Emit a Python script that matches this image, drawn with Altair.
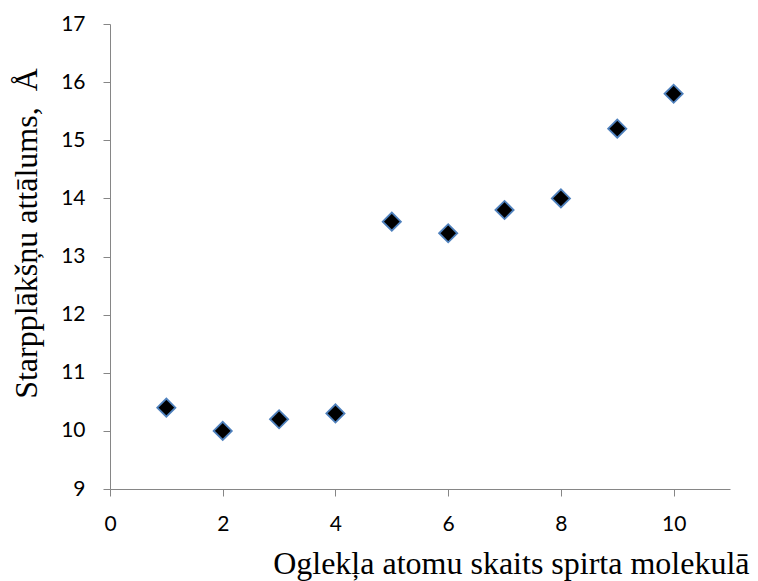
import altair as alt
import pandas as pd

carbon_atoms = [1, 2, 3, 4, 5, 6, 7, 8, 9, 10]
spacing = [10.4, 10.0, 10.2, 10.3, 13.6, 13.4, 13.8, 14.0, 15.2, 15.8]
x_ticks = [0, 2, 4, 6, 8, 10]
y_ticks = [9, 10, 11, 12, 13, 14, 15, 16, 17]

df = pd.DataFrame({"x": carbon_atoms, "y": spacing})

chart = alt.Chart(df).mark_point(
    shape="diamond", filled=True, fill="black", stroke="#4f81bd",
    strokeWidth=1.8, size=330, opacity=1
).encode(
    x=alt.X("x:Q", scale=alt.Scale(domain=[0, 11], nice=False, zero=False),
            axis=alt.Axis(values=x_ticks, title="Oglekļa atomu skaits spirta molekulā",
                          titleX=639, titleY=74, titleAlign="right", titleBaseline="middle",
                          labelPadding=17, labelFlush=False)),
    y=alt.Y("y:Q", scale=alt.Scale(domain=[9, 17], nice=False, zero=False),
            axis=alt.Axis(values=y_ticks, title="Starpplākšņu attālums,\u00a0\u00a0Å",
                          titleX=-84, titleY=209, titleAngle=-90, titleAlign="center",
                          titleBaseline="middle", labelPadding=18, labelFlush=False)),
).properties(
    width=620, height=465,
    padding={"left": 102, "top": 16, "right": 20, "bottom": 92},
    autosize="none",
).configure_view(stroke=None).configure_axis(
    grid=False, domainColor="#868686", tickColor="#868686", tickSize=7,
    domainWidth=1, tickWidth=1,
    labelFont="Lato", labelFontSize=21, labelColor="#000000",
    titleFont="Liberation Serif", titleFontSize=32, titleFontWeight="normal", titleColor="#000000",
)

chart.save("out.html", embed_options={"renderer": "svg", "actions": False})
